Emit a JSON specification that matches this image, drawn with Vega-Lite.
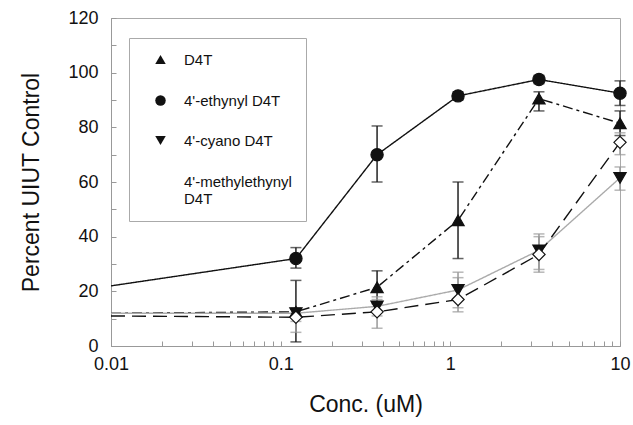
{
  "$schema": "https://vega.github.io/schema/vega-lite/v6.json",
  "width": 509,
  "height": 328,
  "autosize": {"type": "none"},
  "padding": {"left": 111, "top": 18, "right": 13, "bottom": 79},
  "background": "white",
  "config": {
    "font": "Liberation Sans",
    "view": {"stroke": "#aaaaaa", "strokeWidth": 1},
    "axis": {
      "grid": false,
      "domainColor": "#999999",
      "tickColor": "#999999",
      "labelColor": "#111111",
      "titleColor": "#111111",
      "labelFontSize": 18,
      "titleFontSize": 23,
      "titleFontWeight": "normal"
    },
    "legend": {
      "title": null,
      "orient": "none",
      "legendX": 18,
      "legendY": 20,
      "padding": 14,
      "strokeColor": "#aaaaaa",
      "fillColor": "white",
      "labelFontSize": 15,
      "labelColor": "#111111",
      "labelOffset": 16,
      "labelLimit": 300,
      "rowPadding": 24,
      "symbolOffset": 10,
      "symbolSize": 110,
      "symbolStrokeWidth": 1.2,
      "symbolStrokeColor": "#111111"
    }
  },
  "data": {
    "values": [
      {"s": "D4T", "x": 0.01, "y": 12, "m": 0},
      {"s": "D4T", "x": 0.123, "y": 12.5, "lo": 1.5, "hi": 24, "m": 1},
      {"s": "D4T", "x": 0.37, "y": 21.5, "lo": 15.5, "hi": 27.5, "m": 1},
      {"s": "D4T", "x": 1.11, "y": 46, "lo": 32, "hi": 60, "m": 1},
      {"s": "D4T", "x": 3.33, "y": 90.5, "lo": 86, "hi": 93, "m": 1},
      {"s": "D4T", "x": 10, "y": 81.5, "lo": 77, "hi": 86, "m": 1},
      {"s": "4'-ethynyl D4T", "x": 0.01, "y": 22, "m": 0},
      {"s": "4'-ethynyl D4T", "x": 0.123, "y": 32, "lo": 28.5, "hi": 36, "m": 1},
      {"s": "4'-ethynyl D4T", "x": 0.37, "y": 70, "lo": 60, "hi": 80.5, "m": 1},
      {"s": "4'-ethynyl D4T", "x": 1.11, "y": 91.5, "lo": 90, "hi": 93, "m": 1},
      {"s": "4'-ethynyl D4T", "x": 3.33, "y": 97.5, "lo": 96, "hi": 99, "m": 1},
      {"s": "4'-ethynyl D4T", "x": 10, "y": 92.5, "lo": 88, "hi": 97, "m": 1},
      {"s": "4'-cyano D4T", "x": 0.01, "y": 12, "m": 0},
      {"s": "4'-cyano D4T", "x": 0.123, "y": 12, "lo": 9, "hi": 14, "m": 1},
      {"s": "4'-cyano D4T", "x": 0.37, "y": 14.5, "lo": 11, "hi": 17, "m": 1},
      {"s": "4'-cyano D4T", "x": 1.11, "y": 20.5, "lo": 14, "hi": 27, "m": 1},
      {"s": "4'-cyano D4T", "x": 3.33, "y": 35, "lo": 28, "hi": 41, "m": 1},
      {"s": "4'-cyano D4T", "x": 10, "y": 61.5, "lo": 57, "hi": 65.5, "m": 1},
      {"s": "4'-methylethynyl D4T", "x": 0.01, "y": 11, "m": 0},
      {"s": "4'-methylethynyl D4T", "x": 0.123, "y": 10.5, "lo": 5, "hi": 14, "m": 1},
      {"s": "4'-methylethynyl D4T", "x": 0.37, "y": 12.5, "lo": 6.5, "hi": 18, "m": 1},
      {"s": "4'-methylethynyl D4T", "x": 1.11, "y": 17, "lo": 12.5, "hi": 25, "m": 1},
      {"s": "4'-methylethynyl D4T", "x": 3.33, "y": 33.5, "lo": 27, "hi": 40, "m": 1},
      {"s": "4'-methylethynyl D4T", "x": 10, "y": 74.5, "lo": 70, "hi": 78, "m": 1}
    ]
  },
  "encoding": {
    "x": {
      "field": "x", "type": "quantitative",
      "scale": {"type": "log", "domain": [0.01, 10], "nice": false},
      "axis": {
        "title": "Conc. (uM)",
        "values": [0.01,0.02,0.03,0.04,0.05,0.06,0.07,0.08,0.09,0.1,0.2,0.3,0.4,0.5,0.6,0.7,0.8,0.9,1,2,3,4,5,6,7,8,9,10],
        "format": "~g",
        "labelExpr": "indexof([0.01,0.1,1,10], datum.value) >= 0 ? datum.label : ''",
        "tickSize": -5,
        "labelPadding": 14,
        "titlePadding": 20,
        "labelFlush": false,
        "labelOverlap": false
      }
    },
    "y": {
      "field": "y", "type": "quantitative",
      "scale": {"domain": [0, 120], "nice": false},
      "axis": {
        "title": "Percent UIUT Control",
        "values": [0,10,20,30,40,50,60,70,80,90,100,110,120],
        "labelExpr": "datum.value % 20 == 0 ? datum.label : ''",
        "tickSize": -5,
        "labelPadding": 18,
        "titlePadding": 24,
        "labelOverlap": false
      }
    }
  },
  "layer": [
    {
      "mark": {"type": "line", "strokeWidth": 1.4},
      "encoding": {
        "detail": {"field": "s"},
        "stroke": {
          "field": "s", "type": "nominal", "legend": null,
          "scale": {"domain": ["4'-methylethynyl D4T", "4'-cyano D4T", "4'-ethynyl D4T", "D4T"], "range": ["#111111", "#aaaaaa", "#111111", "#111111"]}
        },
        "strokeDash": {
          "field": "s", "type": "nominal", "legend": null,
          "scale": {"domain": ["4'-methylethynyl D4T", "4'-cyano D4T", "4'-ethynyl D4T", "D4T"], "range": [[14, 7], [1, 0], [1, 0], [10, 4, 3, 4]]}
        }
      }
    },
    {
      "transform": [{"filter": "datum.m == 1"}],
      "mark": {"type": "rule", "strokeWidth": 1.5},
      "encoding": {
        "y": {"field": "lo", "type": "quantitative"},
        "y2": {"field": "hi"},
        "color": {
          "field": "s", "type": "nominal", "legend": null,
          "scale": {"domain": ["4'-methylethynyl D4T", "4'-cyano D4T", "4'-ethynyl D4T", "D4T"], "range": ["#999999", "#999999", "#222222", "#222222"]}
        }
      }
    },
    {
      "transform": [{"filter": "datum.m == 1"}],
      "mark": {"type": "tick", "orient": "horizontal", "size": 11, "thickness": 1.5},
      "encoding": {
        "y": {"field": "lo", "type": "quantitative"},
        "color": {"field": "s", "type": "nominal", "legend": null}
      }
    },
    {
      "transform": [{"filter": "datum.m == 1"}],
      "mark": {"type": "tick", "orient": "horizontal", "size": 11, "thickness": 1.5},
      "encoding": {
        "y": {"field": "hi", "type": "quantitative"},
        "color": {"field": "s", "type": "nominal", "legend": null}
      }
    },
    {
      "transform": [{"filter": "datum.m == 1"}],
      "mark": {"type": "point", "filled": true, "stroke": "#111111", "strokeWidth": 1.2, "opacity": 1, "size": 150},
      "encoding": {
        "shape": {
          "field": "s", "type": "nominal",
          "scale": {"domain": ["D4T", "4'-ethynyl D4T", "4'-cyano D4T", "4'-methylethynyl D4T"], "range": ["triangle-up", "circle", "triangle-down", "diamond"]},
          "legend": {
            "labelExpr": "indexof(datum.label, 'methyl') >= 0 ? split(datum.label, ' ') : datum.label"
          }
        },
        "fill": {
          "field": "s", "type": "nominal",
          "scale": {"domain": ["D4T", "4'-ethynyl D4T", "4'-cyano D4T", "4'-methylethynyl D4T"], "range": ["#111111", "#111111", "#111111", "#ffffff"]},
          "legend": {
            "labelExpr": "indexof(datum.label, 'methyl') >= 0 ? split(datum.label, ' ') : datum.label"
          }
        }
      }
    }
  ]
}
